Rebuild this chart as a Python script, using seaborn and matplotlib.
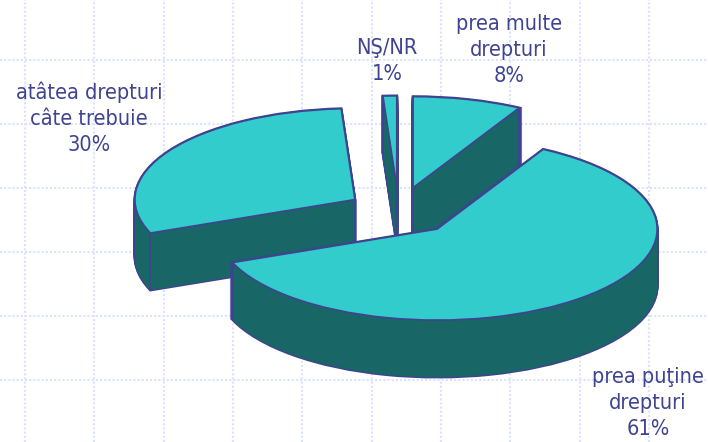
import numpy as np
import matplotlib
matplotlib.use("Agg")
import matplotlib.pyplot as plt
import seaborn as sns

# data
categories = ["prea multe\ndrepturi", "prea puţine\ndrepturi", "atâtea drepturi\ncâte trebuie", "NŞ/NR"]
values = [8, 61, 30, 1]

# style
TOP = "#33CCCC"
SIDE = "#196666"
EDGE = "#3F4390"
GRID = "#DAE2FF"
W, H = 708, 442
explode = [0.265, 0.265, 0.235, 0.265]
paint_order = [0, 3, 2, 1]          # back to front
label_xy = [(509, 50), (648, 403), (89, 118), (387, 61)]

sns.set_theme(style="white", rc={"grid.color": GRID, "grid.linestyle": (0, (1, 1)),
                                 "grid.linewidth": 1.5, "axes.axisbelow": True})
plt.rcParams["font.family"] = ["DejaVu Sans"]

fig = plt.figure(figsize=(W / 100, H / 100), dpi=100, facecolor="white")

# backdrop: dotted grid and labels, axes in pixel units
bg = fig.add_axes([0, 0, 1, 1], zorder=0)
bg.set_xlim(0, W)
bg.set_ylim(H, 0)
bg.set_xticks([25, 94, 164, 233, 302, 372, 441, 510, 580, 649])
bg.set_yticks([60, 124, 188, 252, 316, 380])
bg.tick_params(length=0, labelbottom=False, labelleft=False)
bg.grid(True)
sns.despine(ax=bg, left=True, bottom=True)

# pie axes: circle of radius 1 squashed to an ellipse of 220 x 91 px
ax = fig.add_axes([0, 0, 1, 1], zorder=1)
ax.patch.set_alpha(0)
cx, cy, rx, ry = 398.6, 211.0, 220.0, 91.0
depth = 57 / ry
layers = np.linspace(depth, 0, 58)


def pie_at(dy, **wp):
    wedges, _ = ax.pie(values, explode=explode, startangle=90, counterclock=False,
                       center=(0, -dy), radius=1, wedgeprops=wp)
    return wedges


for dy in layers:
    for w, i in zip(pie_at(dy, facecolor=SIDE, edgecolor=EDGE, linewidth=2.0), range(4)):
        w.set_zorder(1 + paint_order.index(i) + 0.1)
    for w, i in zip(pie_at(dy, facecolor=SIDE, edgecolor="none", linewidth=0), range(4)):
        w.set_zorder(1 + paint_order.index(i) + 0.2)

tops = pie_at(0, facecolor=TOP, edgecolor=EDGE, linewidth=1.2, joinstyle="miter")
for i, w in enumerate(tops):
    z = 1 + paint_order.index(i)
    w.set_zorder(z + 0.4)
    x0, y0 = w.center
    xs = [x0] + [x0 + np.cos(np.radians(t)) for t in (w.theta1, w.theta2)]
    ys = [y0] + [y0 + np.sin(np.radians(t)) for t in (w.theta1, w.theta2)]
    for x, y in zip(xs, ys):
        ax.plot([x, x], [y, y - depth], color=EDGE, lw=1.1, zorder=z + 0.3, solid_capstyle="round")

ax.set_aspect("auto")
ax.set_xlim(-cx / rx, (W - cx) / rx)
ax.set_ylim((cy - H) / ry, cy / ry)
ax.axis("off")

# labels
for cat, val, (x, y) in zip(categories, values, label_xy):
    bg.text(x, y, f"{cat}\n{val}%", ha="center", va="center", color=EDGE,
            fontsize=15.6, linespacing=1.36, stretch="condensed")

fig.savefig("out.png", dpi=100)
